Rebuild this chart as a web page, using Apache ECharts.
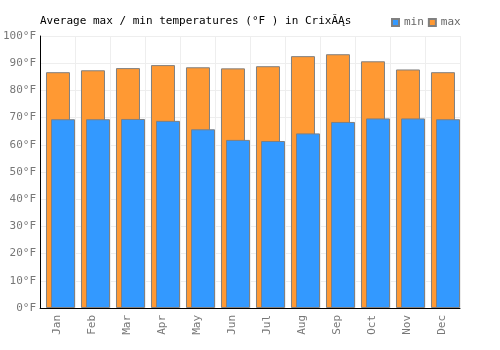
<!DOCTYPE html>
<html>
<head>
<meta charset="utf-8">
<script src="https://cdn.jsdelivr.net/npm/echarts@6/dist/echarts.min.js"></script>
<style>
  html, body { margin: 0; padding: 0; background: #fff; }
  #chart { width: 500px; height: 350px; }
</style>
</head>
<body>
<div id="chart"></div>
<script>
const months = ['Jan', 'Feb', 'Mar', 'Apr', 'May', 'Jun', 'Jul', 'Aug', 'Sep', 'Oct', 'Nov', 'Dec'];
const maxTemps = [86.7, 87.4, 88.2, 89.3, 88.5, 88.1, 88.9, 92.6, 93.3, 90.7, 87.7, 86.7];
const minTemps = [69.4, 69.4, 69.5, 68.8, 65.7, 61.8, 61.4, 64.2, 68.4, 69.7, 69.7, 69.4];

const font = 'DejaVu Sans Mono';
const chart = echarts.init(document.getElementById('chart'));
chart.setOption({
  animation: false,
  title: {
    text: 'Average max / min temperatures (°F ) in CrixĂĄs',
    left: 35,
    top: 11,
    textStyle: { fontFamily: font, fontSize: 11, fontWeight: 'normal', color: '#000' },
  },
  legend: {
    data: ['min', 'max'],
    left: 386,
    top: 12,
    itemWidth: 7,
    itemHeight: 7,
    itemGap: 4,
    icon: 'rect',
    textStyle: { fontFamily: font, fontSize: 11, color: '#666' },
  },
  // grid 0 holds the visible axes, grid 1 (shifted 3px) holds the bars
  grid: [
    { left: 40, right: 40, top: 36, bottom: 42 },
    { left: 43, right: 37, top: 36, bottom: 42 },
  ],
  xAxis: [
    {
      type: 'category',
      gridIndex: 0,
      data: months,
      axisLine: { lineStyle: { color: '#000' } },
      axisTick: { show: false },
      splitLine: { show: true, lineStyle: { color: '#eee' } },
      axisLabel: { rotate: 90, fontFamily: font, fontSize: 11, color: '#777', margin: 7 },
    },
    {
      type: 'category',
      gridIndex: 1,
      data: months,
      show: false,
    },
  ],
  yAxis: [
    {
      type: 'value',
      gridIndex: 0,
      min: 0,
      max: 100,
      interval: 10,
      axisLine: { show: true, lineStyle: { color: '#000' } },
      axisTick: { show: false },
      splitLine: { lineStyle: { color: '#eee' } },
      axisLabel: { formatter: '{value}°F', fontFamily: font, fontSize: 11, color: '#777', margin: 4 },
    },
    {
      type: 'value',
      gridIndex: 1,
      min: 0,
      max: 100,
      interval: 10,
      show: false,
    },
  ],
  series: [
    {
      name: 'max',
      type: 'bar',
      xAxisIndex: 1,
      yAxisIndex: 1,
      data: maxTemps,
      barWidth: 24,
      barGap: '-79%',
      itemStyle: { color: '#ff9933', borderColor: '#808080', borderWidth: 1, borderRadius: 0 },
    },
    {
      name: 'min',
      type: 'bar',
      xAxisIndex: 1,
      yAxisIndex: 1,
      data: minTemps,
      barWidth: 24,
      itemStyle: { color: '#3399ff', borderColor: '#808080', borderWidth: 1, borderRadius: 0 },
    },
  ],
});
</script>
</body>
</html>
